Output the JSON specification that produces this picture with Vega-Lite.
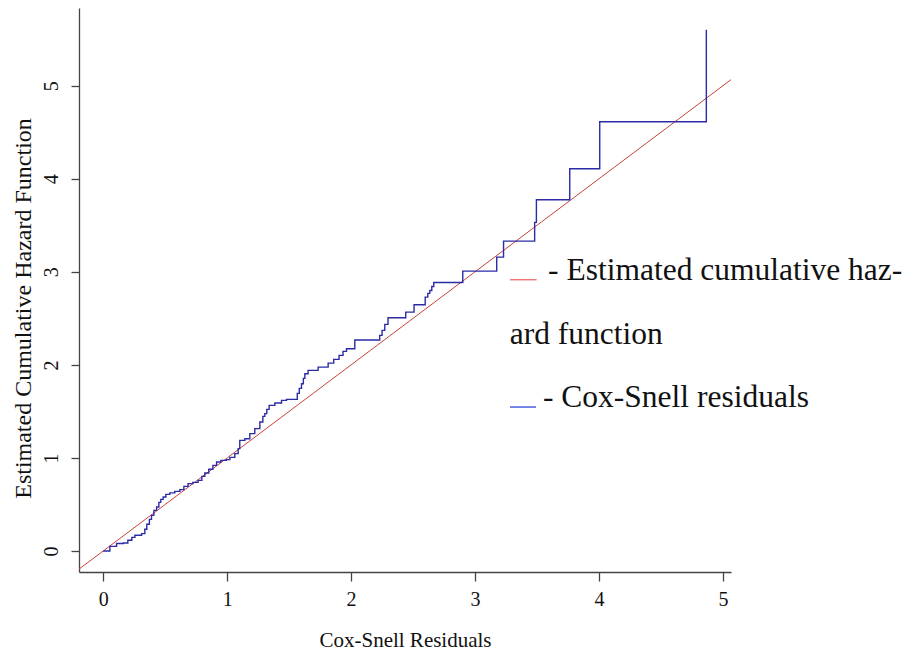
{
  "$schema": "https://vega.github.io/schema/vega-lite/v6.json",
  "width": 652,
  "height": 564,
  "autosize": {"type": "none"},
  "padding": {"left": 79, "top": 8, "right": 188, "bottom": 80},
  "background": "white",
  "config": {
    "view": {"stroke": null},
    "font": "Liberation Serif",
    "axis": {
      "grid": false,
      "domainColor": "#444444",
      "domainWidth": 1.3,
      "tickColor": "#444444",
      "tickWidth": 1.3,
      "labelColor": "#111111",
      "titleColor": "#111111",
      "labelFont": "Liberation Serif",
      "titleFont": "Liberation Serif",
      "titleFontWeight": "normal"
    }
  },
  "datasets": {
    "steps": [
      {"x": 0, "y": 0.0},
      {"x": 0.054, "y": 0.05},
      {"x": 0.108, "y": 0.08},
      {"x": 0.161, "y": 0.086},
      {"x": 0.199, "y": 0.115},
      {"x": 0.231, "y": 0.147},
      {"x": 0.256, "y": 0.169},
      {"x": 0.31, "y": 0.187},
      {"x": 0.336, "y": 0.233},
      {"x": 0.352, "y": 0.287},
      {"x": 0.373, "y": 0.34},
      {"x": 0.39, "y": 0.383},
      {"x": 0.409, "y": 0.437},
      {"x": 0.431, "y": 0.473},
      {"x": 0.449, "y": 0.523},
      {"x": 0.465, "y": 0.555},
      {"x": 0.484, "y": 0.58},
      {"x": 0.506, "y": 0.609},
      {"x": 0.538, "y": 0.625},
      {"x": 0.578, "y": 0.641},
      {"x": 0.619, "y": 0.66},
      {"x": 0.651, "y": 0.695},
      {"x": 0.685, "y": 0.724},
      {"x": 0.723, "y": 0.738},
      {"x": 0.766, "y": 0.759},
      {"x": 0.796, "y": 0.802},
      {"x": 0.82, "y": 0.838},
      {"x": 0.852, "y": 0.878},
      {"x": 0.885, "y": 0.92},
      {"x": 0.915, "y": 0.956},
      {"x": 0.949, "y": 0.974},
      {"x": 0.995, "y": 0.982},
      {"x": 1.022, "y": 1.006},
      {"x": 1.062, "y": 1.046},
      {"x": 1.089, "y": 1.1},
      {"x": 1.102, "y": 1.189},
      {"x": 1.143, "y": 1.207},
      {"x": 1.183, "y": 1.261},
      {"x": 1.223, "y": 1.315},
      {"x": 1.264, "y": 1.386},
      {"x": 1.288, "y": 1.447},
      {"x": 1.304, "y": 1.476},
      {"x": 1.32, "y": 1.522},
      {"x": 1.339, "y": 1.565},
      {"x": 1.385, "y": 1.59},
      {"x": 1.439, "y": 1.619},
      {"x": 1.479, "y": 1.629},
      {"x": 1.566, "y": 1.694},
      {"x": 1.582, "y": 1.748},
      {"x": 1.6, "y": 1.798},
      {"x": 1.615, "y": 1.855},
      {"x": 1.627, "y": 1.905},
      {"x": 1.653, "y": 1.941},
      {"x": 1.734, "y": 1.976},
      {"x": 1.815, "y": 2.019},
      {"x": 1.86, "y": 2.059},
      {"x": 1.903, "y": 2.102},
      {"x": 1.935, "y": 2.145},
      {"x": 1.963, "y": 2.174},
      {"x": 2.03, "y": 2.268},
      {"x": 2.231, "y": 2.317},
      {"x": 2.25, "y": 2.371},
      {"x": 2.272, "y": 2.435},
      {"x": 2.298, "y": 2.507},
      {"x": 2.441, "y": 2.567},
      {"x": 2.508, "y": 2.647},
      {"x": 2.598, "y": 2.728},
      {"x": 2.619, "y": 2.768},
      {"x": 2.635, "y": 2.8},
      {"x": 2.651, "y": 2.843},
      {"x": 2.667, "y": 2.886},
      {"x": 2.901, "y": 3.008},
      {"x": 3.175, "y": 3.158},
      {"x": 3.23, "y": 3.33},
      {"x": 3.481, "y": 3.531},
      {"x": 3.495, "y": 3.774},
      {"x": 3.764, "y": 4.107},
      {"x": 4.006, "y": 4.612},
      {"x": 4.866, "y": 5.6}
    ],
    "ref": [
      {"x": -0.3, "y": -0.3},
      {"x": 5.3, "y": 5.3}
    ],
    "legendLines": [
      {"x": 3.282, "x2": 3.497, "y": 2.915, "series": "red"},
      {"x": 3.282, "x2": 3.492, "y": 1.547, "series": "blue"}
    ],
    "legendText": [
      {"x": 3.589, "y": 2.908, "label": "- Estimated cumulative haz-"},
      {"x": 3.28, "y": 2.22, "label": "ard function"},
      {"x": 3.548, "y": 1.547, "label": "- Cox-Snell residuals"}
    ]
  },
  "layer": [
    {
      "data": {"name": "ref"},
      "mark": {"type": "line", "color": "#c8403c", "strokeWidth": 1, "clip": true},
      "encoding": {
        "x": {
          "field": "x", "type": "quantitative",
          "scale": {"domain": [-0.195, 5.065], "nice": false, "zero": false},
          "axis": {
            "values": [0, 1, 2, 3, 4, 5],
            "format": "d",
            "title": "Cox-Snell Residuals",
            "tickSize": 9,
            "labelFontSize": 20,
            "labelPadding": 8,
            "titleFontSize": 21,
            "titlePadding": 20
          }
        },
        "y": {
          "field": "y", "type": "quantitative",
          "scale": {"domain": [-0.2256, 5.835], "nice": false, "zero": false},
          "axis": {
            "values": [0, 1, 2, 3, 4, 5],
            "format": "d",
            "title": "Estimated Cumulative Hazard Function",
            "tickSize": 8,
            "labelAngle": -90,
            "labelAlign": "center",
            "labelBaseline": "bottom",
            "labelFontSize": 20,
            "labelPadding": 10,
            "titleFontSize": 24,
            "titlePadding": 6,
            "titleY": 300
          }
        }
      }
    },
    {
      "data": {"name": "steps"},
      "mark": {"type": "line", "color": "#2b2ba6", "strokeWidth": 1.4, "interpolate": "step-after", "clip": true},
      "encoding": {
        "x": {"field": "x", "type": "quantitative"},
        "y": {"field": "y", "type": "quantitative"}
      }
    },
    {
      "data": {"name": "legendLines"},
      "mark": {"type": "rule", "strokeWidth": 1.3},
      "encoding": {
        "x": {"field": "x", "type": "quantitative"},
        "x2": {"field": "x2"},
        "y": {"field": "y", "type": "quantitative"},
        "color": {
          "field": "series", "type": "nominal",
          "scale": {"domain": ["red", "blue"], "range": ["#f06a6a", "#3048d8"]},
          "legend": null
        }
      }
    },
    {
      "data": {"name": "legendText"},
      "mark": {"type": "text", "align": "left", "baseline": "alphabetic", "fontSize": 31.5, "font": "Liberation Serif", "color": "#111111"},
      "encoding": {
        "x": {"field": "x", "type": "quantitative"},
        "y": {"field": "y", "type": "quantitative"},
        "text": {"field": "label"}
      }
    }
  ]
}
